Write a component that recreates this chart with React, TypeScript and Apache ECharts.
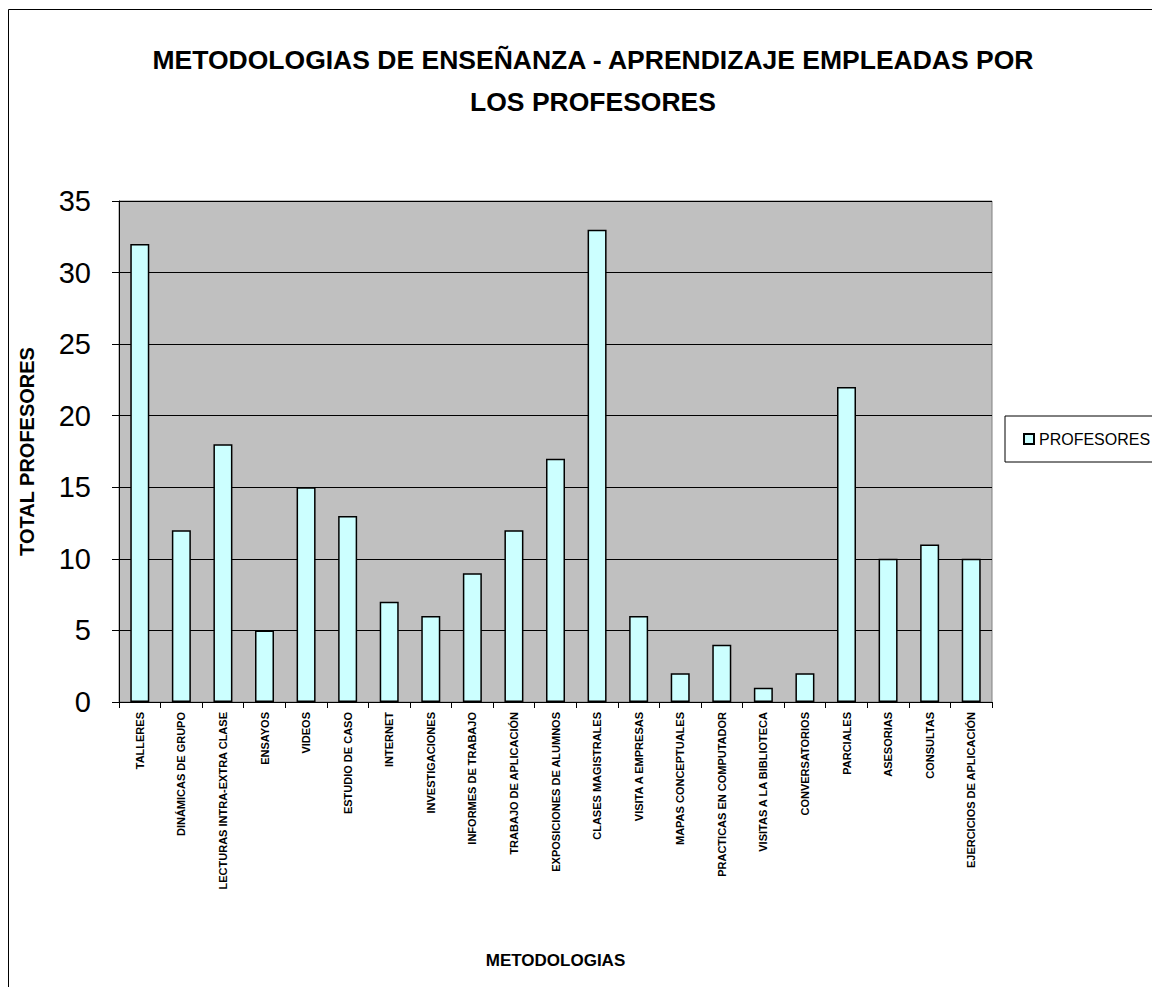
import React, { useEffect, useRef } from "react";
import * as echarts from "echarts";

const categories = [
  "TALLERES",
  "DINÁMICAS DE GRUPO",
  "LECTURAS INTRA-EXTRA CLASE",
  "ENSAYOS",
  "VIDEOS",
  "ESTUDIO DE CASO",
  "INTERNET",
  "INVESTIGACIONES",
  "INFORMES DE TRABAJO",
  "TRABAJO DE APLICACIÓN",
  "EXPOSICIONES DE ALUMNOS",
  "CLASES MAGISTRALES",
  "VISITA A EMPRESAS",
  "MAPAS CONCEPTUALES",
  "PRACTICAS EN COMPUTADOR",
  "VISITAS A LA BIBLIOTECA",
  "CONVERSATORIOS",
  "PARCIALES",
  "ASESORIAS",
  "CONSULTAS",
  "EJERCICIOS DE APLICACIÓN",
];
const profesores = [32, 12, 18, 5, 15, 13, 7, 6, 9, 12, 17, 33, 6, 2, 4, 1, 2, 22, 10, 11, 10];
const seriesName = "PROFESORES";
const titleText = "METODOLOGIAS DE ENSEÑANZA - APRENDIZAJE EMPLEADAS POR\nLOS PROFESORES";

export default function App() {
  const ref = useRef<HTMLDivElement>(null);
  useEffect(() => {
    const chart = echarts.init(ref.current!, null, { renderer: "svg" });
    const font = "'Liberation Sans', Arial, sans-serif";
    chart.setOption({
      animation: false,
      backgroundColor: "#ffffff",
      graphic: [
        {
          type: "rect",
          shape: { x: 0.5, y: 1.5, width: 1200, height: 1100 },
          style: { fill: "none", stroke: "#000", lineWidth: 1 },
          silent: true,
        },
      ],
      title: {
        text: titleText,
        left: 580,
        textAlign: "center",
        top: 26,
        textStyle: {
          fontFamily: font,
          fontWeight: "bold",
          fontSize: 26.5,
          lineHeight: 42,
          color: "#000",
        },
      },
      legend: {
        left: 997,
        top: 408,
        orient: "vertical",
        data: [seriesName],
        icon: "rect",
        itemWidth: 10,
        itemHeight: 10,
        itemGap: 4,
        borderColor: "#000",
        borderWidth: 1,
        padding: [15, 30, 15, 18],
        textStyle: { fontFamily: font, fontSize: 16, color: "#000", padding: [0, 0, 0, 0] },
      },
      grid: {
        left: 111,
        top: 193,
        right: 168,
        bottom: 285,
        show: true,
        backgroundColor: "#C0C0C0",
        borderColor: "#808080",
        borderWidth: 1,
      },
      xAxis: {
        type: "category",
        data: categories,
        name: "METODOLOGIAS",
        nameLocation: "middle",
        nameGap: 250,
        nameTextStyle: { fontFamily: font, fontWeight: "bold", fontSize: 17, color: "#000" },
        axisLine: { show: true, lineStyle: { color: "#000", width: 1 } },
        axisTick: { show: true, alignWithLabel: false, length: 6, lineStyle: { color: "#000" } },
        axisLabel: {
          interval: 0,
          rotate: 90,
          margin: 10,
          fontFamily: font,
          fontWeight: "bold",
          fontSize: 11,
          color: "#000",
        },
      },
      yAxis: {
        type: "value",
        min: 0,
        max: 35,
        interval: 5,
        name: "TOTAL PROFESORES",
        nameLocation: "middle",
        nameGap: 82,
        nameTextStyle: { fontFamily: font, fontWeight: "bold", fontSize: 20, color: "#000" },
        axisLine: { show: true, lineStyle: { color: "#000", width: 1 } },
        axisTick: { show: true, length: 7, lineStyle: { color: "#000" } },
        axisLabel: { fontFamily: font, fontSize: 29, color: "#000", margin: 28 },
        splitLine: { show: true, lineStyle: { color: "#000", width: 1 } },
      },
      series: [
        {
          name: seriesName,
          type: "bar",
          data: profesores,
          barWidth: 19,
          itemStyle: { color: "#CCFFFF", borderColor: "#000", borderWidth: 1.5 },
        },
      ],
    });
    return () => chart.dispose();
  }, []);
  return <div ref={ref} style={{ width: 1152, height: 979 }} />;
}
